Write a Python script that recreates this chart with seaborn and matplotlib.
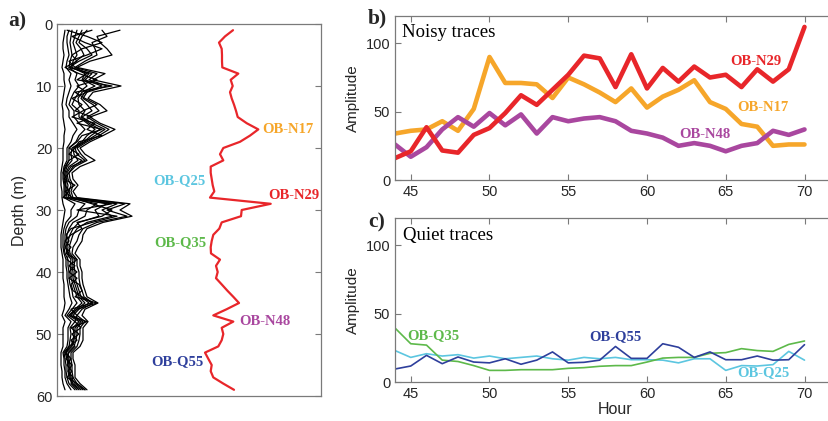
import matplotlib
matplotlib.use("Agg")
import matplotlib.pyplot as plt
import numpy as np
import pandas as pd
import seaborn as sns

# ---------------- data ----------------
depth = list(range(1, 60))

# mean profile (red) in panel a, horizontal position in arbitrary units
mean_profile = [176, 168, 162, 164.7, 165, 165, 165.3, 181.3, 173.7, 175.7,
                173, 174.7, 177, 179, 180.7, 189.7, 201.3, 193, 183, 166.3,
                163, 166.3, 153.7, 153.7, 154.7, 155.7, 157.3, 153, 213.7, 184.7,
                184, 164.7, 162.3, 156.3, 154.7, 153.7, 154, 163, 159, 160.7,
                159, 164.7, 170.3, 176.3, 182, 169.7, 156.3, 176.3, 164.7, 166.3,
                164.7, 161.3, 148, 151.3, 154.7, 153.7, 156.3, 166.3, 177]

# individual traces (black) in panel a
trace_a = [8, 7, 6, 6, 7, 6, 5, 7, 7, 8, 7, 6, 5, 6, 6, 7, 8, 7, 7, 6,
           6, 6, 5, 4, 4, 4, 5, 5, 6, 8, 7, 6, 5, 4, 4, 4, 5, 6, 6, 6,
           6, 7, 7, 7, 8, 7, 5, 8, 6, 6, 6, 6, 4, 4, 4, 5, 5, 6, 8]
trace_b = [12, 10, 10, 11, 12, 10, 9, 14, 12, 14, 12, 10, 9, 12, 12, 16, 20, 16, 14, 10,
           10, 10, 7, 6, 6, 7, 7, 7, 18, 14, 14, 9, 7, 6, 6, 6, 7, 9, 9, 10,
           10, 11, 12, 13, 15, 12, 8, 14, 11, 11, 11, 10, 6, 7, 7, 8, 8, 10, 14]
trace_g = [15, 14, 13, 14, 15, 13, 12, 20, 18, 22, 17, 14, 12, 17, 17, 22, 28, 22, 19, 12,
           12, 12, 8, 7, 7, 8, 8, 8, 28, 22, 20, 12, 9, 8, 8, 7, 8, 11, 11, 12,
           12, 13, 15, 16, 20, 15, 10, 18, 13, 14, 13, 12, 7, 8, 9, 9, 10, 12, 18]
trace_c = [20, 18, 16, 18, 20, 16, 15, 28, 25, 30, 22, 18, 15, 22, 22, 30, 38, 30, 25, 15,
           14, 15, 10, 8, 8, 9, 9, 10, 40, 30, 28, 16, 12, 10, 9, 9, 10, 14, 13, 14,
           14, 16, 18, 20, 25, 18, 12, 22, 16, 17, 16, 14, 8, 10, 11, 11, 12, 15, 22]
trace_h = [25, 22, 19, 24, 27, 19, 13, 32, 26, 38, 25, 21, 22, 28, 24, 32, 43, 34, 27, 16,
           17, 21, 12, 9, 9, 11, 10, 12, 50, 38, 42, 22, 16, 13, 11, 10, 11, 16, 15, 16,
           16, 18, 20, 22, 28, 20, 14, 24, 18, 18, 17, 15, 9, 11, 12, 12, 13, 16, 24]
trace_d = [30, 25, 22, 30, 35, 22, 12, 35, 28, 45, 28, 24, 30, 35, 25, 35, 48, 38, 28, 18,
           20, 28, 14, 10, 11, 14, 12, 14, 60, 45, 55, 30, 20, 16, 14, 12, 13, 18, 17, 18,
           18, 20, 22, 24, 32, 22, 16, 26, 20, 20, 19, 17, 11, 12, 13, 13, 14, 18, 26]
trace_f = [45, 50, 35, 38, 40, 28, 18, 40, 32, 50, 30, 26, 36, 42, 30, 40, 52, 42, 30, 20,
           24, 30, 18, 12, 13, 16, 14, 16, 68, 50, 70, 40, 26, 22, 20, 16, 15, 20, 20, 22,
           22, 23, 25, 27, 36, 25, 20, 28, 23, 23, 22, 20, 14, 14, 15, 15, 16, 20, 28]
trace_e = [63, 40, 43, 50, 55, 33, 20, 48, 36, 64, 36, 31, 43, 50, 33, 43, 58, 46, 33, 23,
           28, 38, 23, 15, 16, 21, 16, 20, 73, 63, 75, 46, 30, 26, 25, 21, 18, 23, 23, 25,
           25, 26, 28, 30, 41, 28, 25, 31, 26, 26, 26, 23, 16, 16, 18, 18, 18, 23, 30]
trace_i = [10, 30, 45, 25, 15, 20, 8, 22, 40, 20, 30, 15, 25, 18, 35, 20, 45, 25, 20, 12,
           22, 12, 9, 6, 10, 8, 12, 6, 55, 20, 60, 35, 14, 9, 12, 8, 12, 10, 18, 12,
           20, 14, 16, 25, 35, 14, 20, 18, 24, 15, 20, 12, 9, 14, 10, 15, 10, 20, 28]
trace_j = [35, 15, 28, 45, 30, 12, 18, 30, 20, 55, 18, 28, 40, 26, 15, 38, 30, 45, 22, 18,
           12, 25, 16, 12, 7, 18, 8, 15, 35, 55, 45, 20, 25, 14, 8, 14, 9, 20, 12, 20,
           12, 22, 25, 18, 40, 20, 12, 30, 14, 22, 14, 18, 12, 9, 15, 11, 16, 14, 20]

hours = list(range(44, 71))
n29 = [16, 21, 38.6, 21.6, 20, 33, 38, 49, 62, 55, 66, 77, 91, 89, 68, 92, 67, 82, 72, 83,
       75, 77, 68, 81, 72, 81, 112]
n17 = [34, 36, 37, 43, 36, 52, 90, 71, 71, 70, 60, 75, 70, 64, 57, 67, 53, 61, 66, 73,
       57, 52, 41, 39, 25, 26, 26]
n48 = [26, 17, 24, 37, 46, 39, 49, 40, 48, 34, 46, 43, 45, 46, 43, 36, 34, 31, 25, 27,
       25, 21, 25, 27, 36, 33, 37]
q35 = [39.5, 28, 27, 16, 15, 12, 8.5, 8.5, 9, 9, 9, 10, 10.5, 11.5, 12, 12, 14.6, 17.5,
       18, 18, 21, 21.5, 24.4, 23, 22.4, 27.5, 30]
q55 = [9.5, 11.7, 19.5, 13.4, 18.3, 14.6, 14, 17, 13, 16, 22, 14, 14.4, 16, 26, 17.3, 17.3,
       28, 25.4, 18, 22, 16.3, 16.3, 19, 16, 16.3, 27.3]
q25 = [23, 18, 20.7, 19, 20, 17.5, 19, 17, 18, 19, 17, 16, 18, 17, 18, 16.3, 16.3, 16, 14,
       17, 17, 8.5, 12, 11.7, 12.7, 22.4, 16]

# ---------------- style ----------------
sns.set_style("ticks")
plt.rcParams['font.family'] = ['Liberation Sans', 'DejaVu Sans']
SERIF = ['Liberation Serif', 'DejaVu Serif']

C_RED = '#E8262A'
C_ORANGE = '#F6A62A'
C_PURPLE = '#A9479F'
C_GREEN = '#5DB94A'
C_BLUE = '#2E3F9C'
C_CYAN = '#5CC6E0'
SPINE = '#7a7a7a'
TXT = '#262626'

W, H = 829, 421
fig = plt.figure(figsize=(W / 100, H / 100), dpi=100)

def px_axes(l, t, r, b):
    return fig.add_axes([l / W, (H - b) / H, (r - l) / W, (b - t) / H])

def style(ax):
    for s in ax.spines.values():
        s.set_color(SPINE)
        s.set_linewidth(0.9)
        s.set_visible(True)
    ax.tick_params(direction='in', length=4, width=0.8, color=SPINE,
                   labelcolor=TXT, labelsize=10.5, top=True, right=True)

# ---------------- panel a ----------------
ax_a = px_axes(57, 24, 321, 396)
traces = [trace_a, trace_b, trace_g, trace_c, trace_h, trace_d, trace_f, trace_e,
          trace_i, trace_j]
long = pd.DataFrame({
    'x': np.concatenate(traces),
    'depth': np.tile(depth, len(traces)),
    'trace': np.repeat(np.arange(len(traces)), len(depth)),
})
sns.lineplot(data=long, x='x', y='depth', units='trace', estimator=None,
             orient='y', sort=False, color='black', lw=0.9, ax=ax_a)
sns.lineplot(x=mean_profile, y=depth, orient='y', sort=False, color=C_RED,
             lw=1.6, ax=ax_a)
ax_a.set_xlim(0, 264)
ax_a.set_ylim(60, 0)
ax_a.set_yticks(range(0, 61, 10))
ax_a.set_xticks([])
style(ax_a)
ax_a.tick_params(bottom=False, top=False)
ax_a.set_xlabel('')
ax_a.set_ylabel('Depth (m)', fontsize=11.5, color=TXT, labelpad=6)

lab_kw = dict(family=SERIF, fontweight='bold', fontsize=10.5, va='center')
ax_a.text(205, 17, 'OB-N17', color=C_ORANGE, ha='left', **lab_kw)
ax_a.text(148.5, 25.3, 'OB-Q25', color=C_CYAN, ha='right', **lab_kw)
ax_a.text(211, 27.6, 'OB-N29', color=C_RED, ha='left', **lab_kw)
ax_a.text(149, 35.3, 'OB-Q35', color=C_GREEN, ha='right', **lab_kw)
ax_a.text(182, 48, 'OB-N48', color=C_PURPLE, ha='left', **lab_kw)
ax_a.text(147, 54.5, 'OB-Q55', color=C_BLUE, ha='right', **lab_kw)

# ---------------- panel b ----------------
ax_b = px_axes(395, 16, 836, 180)
for vals, col in [(n17, C_ORANGE), (n48, C_PURPLE), (n29, C_RED)]:
    sns.lineplot(x=hours, y=vals, color=col, lw=3.3, ax=ax_b)
ax_b.set_xlim(44, 72)
ax_b.set_ylim(0, 120)
ax_b.set_xticks(range(45, 71, 5))
ax_b.set_yticks([0, 50, 100])
style(ax_b)
ax_b.set_ylabel('Amplitude', fontsize=11, color=TXT, labelpad=4)
ax_b.text(44.45, 108, 'Noisy traces', family=SERIF, fontsize=13.5, color='black',
          ha='left', va='center')
ax_b.text(65.3, 87, 'OB-N29', color=C_RED, ha='left', **lab_kw)
ax_b.text(65.7, 53.4, 'OB-N17', color=C_ORANGE, ha='left', **lab_kw)
ax_b.text(62.05, 33.6, 'OB-N48', color=C_PURPLE, ha='left', **lab_kw)

# ---------------- panel c ----------------
ax_c = px_axes(395, 218, 836, 382)
for vals, col in [(q25, C_CYAN), (q35, C_GREEN), (q55, C_BLUE)]:
    sns.lineplot(x=hours, y=vals, color=col, lw=1.2, ax=ax_c)
ax_c.set_xlim(44, 72)
ax_c.set_ylim(0, 120)
ax_c.set_xticks(range(45, 71, 5))
ax_c.set_yticks([0, 50, 100])
style(ax_c)
ax_c.set_ylabel('Amplitude', fontsize=11, color=TXT, labelpad=4)
ax_c.set_xlabel('Hour', fontsize=11.5, color=TXT, labelpad=1)
ax_c.text(44.5, 107.5, 'Quiet traces', family=SERIF, fontsize=13.5, color='black',
          ha='left', va='center')
ax_c.text(44.75, 34.2, 'OB-Q35', color=C_GREEN, ha='left', **lab_kw)
ax_c.text(56.35, 33.5, 'OB-Q55', color=C_BLUE, ha='left', **lab_kw)
ax_c.text(65.7, 6.6, 'OB-Q25', color=C_CYAN, ha='left', **lab_kw)

# panel letters
fig.text(8 / W, 1 - 21 / H, 'a)', family=SERIF, fontweight='bold', fontsize=15.5,
         ha='left', va='center')
fig.text(368 / W, 1 - 18 / H, 'b)', family=SERIF, fontweight='bold', fontsize=15.5,
         ha='left', va='center')
fig.text(368 / W, 1 - 222 / H, 'c)', family=SERIF, fontweight='bold', fontsize=15.5,
         ha='left', va='center')

fig.savefig('out.png', dpi=100)
